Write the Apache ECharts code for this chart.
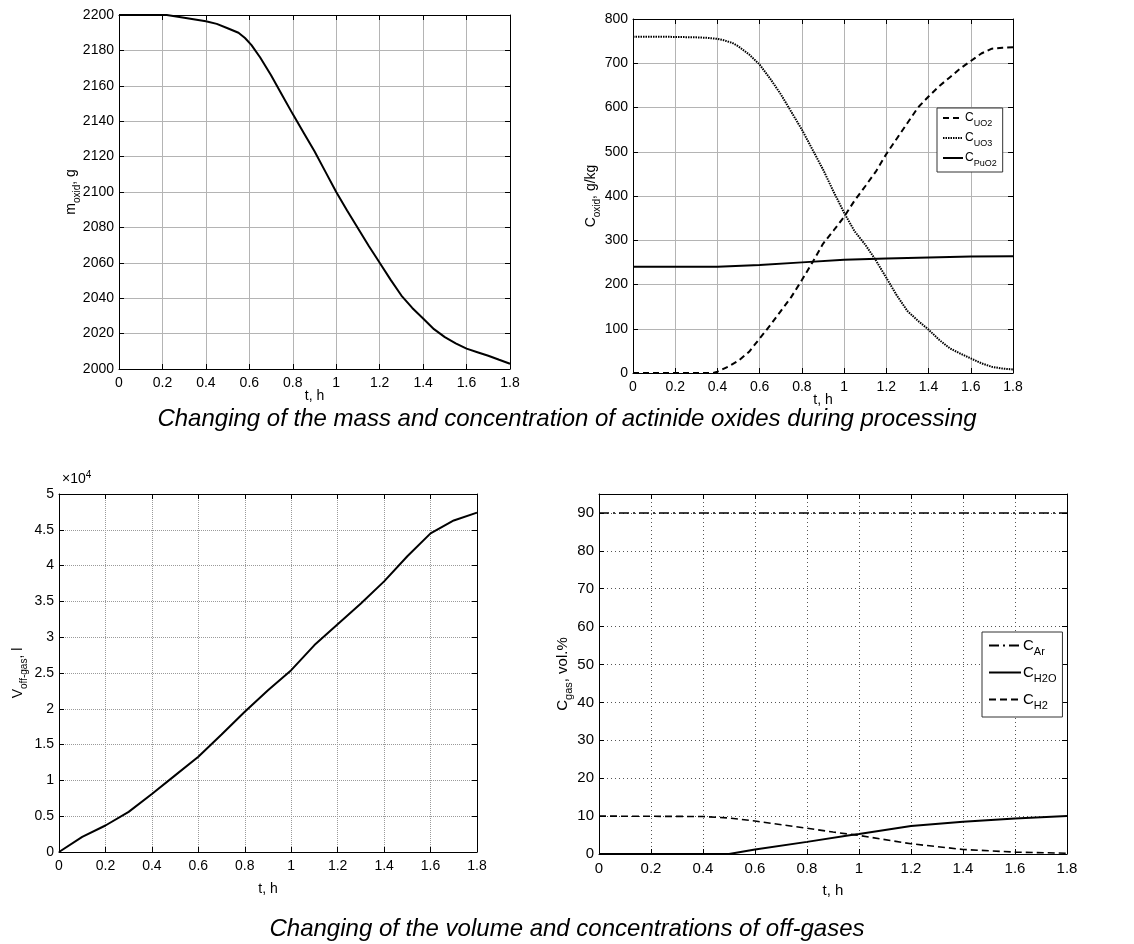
<!DOCTYPE html>
<html>
<head>
<meta charset="utf-8">
<script src="https://cdn.jsdelivr.net/npm/echarts@6/dist/echarts.min.js"></script>
<style>html,body{margin:0;padding:0;background:#fff}#c{width:1134px;height:944px}</style>
</head>
<body>
<div id="c"></div>
<script>
// ---- data ----
const tTicks = [0, 0.2, 0.4, 0.6, 0.8, 1, 1.2, 1.4, 1.6, 1.8];

const massT = [0, 0.22, 0.3, 0.4, 0.45, 0.5, 0.55, 0.58, 0.61, 0.65, 0.7, 0.75, 0.8, 0.85, 0.9, 0.95, 1.0, 1.05, 1.1, 1.15, 1.2, 1.25, 1.3, 1.35, 1.4, 1.45, 1.5, 1.55, 1.6, 1.65, 1.7, 1.75, 1.8];
const massG = [2200, 2200, 2198.5, 2196.5, 2195, 2192.5, 2190, 2187, 2183, 2176, 2166, 2155, 2144, 2133.5, 2123, 2111.5, 2100, 2089.5, 2079.5, 2069.5, 2060, 2050.5, 2041.5, 2034.5, 2028.5, 2022.5, 2018, 2014.5, 2011.5, 2009.5, 2007.5, 2005.2, 2003];

const uo2T = [0, 0.38, 0.4, 0.45, 0.5, 0.55, 0.6, 0.65, 0.7, 0.75, 0.8, 0.85, 0.9, 0.95, 1.0, 1.05, 1.1, 1.15, 1.2, 1.25, 1.3, 1.35, 1.4, 1.45, 1.5, 1.55, 1.6, 1.65, 1.7, 1.75, 1.8];
const uo2C = [0, 0, 3, 14, 28, 48, 78, 108, 140, 172, 210, 250, 292, 322, 353, 390, 422, 455, 495, 530, 565, 600, 625, 648, 668, 688, 705, 722, 733, 735, 736];

const uo3T = [0, 0.1, 0.2, 0.3, 0.35, 0.4, 0.43, 0.47, 0.5, 0.55, 0.6, 0.65, 0.7, 0.75, 0.8, 0.85, 0.9, 0.95, 1.0, 1.05, 1.1, 1.15, 1.2, 1.25, 1.3, 1.35, 1.4, 1.45, 1.5, 1.55, 1.6, 1.65, 1.7, 1.75, 1.8];
const uo3C = [760, 760, 759.5, 758.5, 757.5, 755, 752, 746, 738, 720, 697, 665, 630, 590, 550, 505, 460, 410, 362, 320, 290, 255, 215, 175, 140, 118, 98, 75, 56, 44, 33, 22, 14, 10, 8];

const puo2T = [0, 0.4, 0.6, 0.8, 1.0, 1.2, 1.4, 1.6, 1.8];
const puo2C = [240, 240, 244, 250, 256, 259, 261, 263, 264];

const gasT = [0, 0.1, 0.2, 0.3, 0.4, 0.5, 0.6, 0.7, 0.8, 0.9, 1.0, 1.1, 1.2, 1.3, 1.4, 1.5, 1.6, 1.7, 1.8];
const gasV = [0, 2100, 3700, 5600, 8100, 10700, 13300, 16400, 19600, 22600, 25400, 28900, 31800, 34700, 37800, 41300, 44500, 46300, 47400];

const arT = [0, 1.8];
const arC = [90, 90];
const h2oT = [0, 0.5, 0.6, 0.8, 0.97, 1.0, 1.2, 1.4, 1.6, 1.8];
const h2oC = [0, 0, 1.2, 3.2, 5, 5.3, 7.4, 8.5, 9.4, 10];
const h2T = [0, 0.4, 0.5, 0.6, 0.8, 0.9, 1.0, 1.2, 1.4, 1.6, 1.8];
const h2C = [10, 9.9, 9.5, 8.7, 6.8, 5.8, 4.9, 2.7, 1.2, 0.5, 0.2];

const caption1 = 'Changing of the mass and concentration of actinide oxides during processing';
const caption2 = 'Changing of the volume and concentrations of off-gases';

// ---- helpers ----
const zip = (xs, ys) => xs.map((x, i) => [x, ys[i]]);
const FONT = 'Liberation Sans, Arial, sans-serif';
const subRich = (fs) => ({
  m: { fontSize: fs, fontFamily: FONT, color: '#000', lineHeight: fs + 8 },
  s: { fontSize: Math.round(fs * 0.72), fontFamily: FONT, color: '#000', lineHeight: Math.round(fs * 0.72), verticalAlign: 'bottom' }
});

const grids = [
  { left: 119, top: 15, width: 391, height: 354 },
  { left: 633, top: 19, width: 380, height: 354 },
  { left: 59, top: 494, width: 418, height: 358 },
  { left: 599, top: 494, width: 468, height: 360 }
];

const gridStyles = [
  { color: '#b4b4b4', type: 'solid', width: 1 },
  { color: '#b4b4b4', type: 'solid', width: 1 },
  { color: '#9a9a9a', type: [1, 1], width: 1 },
  { color: '#555', type: [1, 3], width: 1 }
];

const xNames = ['t, h', 't, h', 't, h', 't, h'];
const xGaps = [20, 20, 30, 29];
const yCfg = [
  { min: 2000, max: 2200, interval: 20, name: '{m|m}{s|oxid}{m|, g}', gap: 37, fs: 14 },
  { min: 0, max: 800, interval: 100, name: '{m|C}{s|oxid}{m|, g/kg}', gap: 31, fs: 14 },
  { min: 0, max: 50000, interval: 5000, name: '{m|V}{s|off-gas}{m|, l}', gap: 30, fs: 14, fmt: v => String(v / 10000) },
  { min: 0, max: 95, interval: 10, name: '{m|C}{s|gas}{m|, vol.%}', gap: 25, fs: 15, hideMax: true }
];

const xAxis = [], yAxis = [];
grids.forEach((g, i) => {
  const fs = yCfg[i].fs;
  xAxis.push({
    type: 'value', gridIndex: i, min: 0, max: 1.8, interval: 0.2, position: 'bottom',
    name: xNames[i], nameLocation: 'middle', nameGap: xGaps[i], nameMoveOverlap: false,
    nameTextStyle: { fontSize: fs, fontFamily: FONT, color: '#000' },
    axisLine: { show: true, onZero: false, lineStyle: { color: '#000', width: 1 } },
    axisTick: { show: true, inside: true, length: 5, lineStyle: { color: '#000' } },
    axisLabel: { fontSize: fs, fontFamily: FONT, color: '#000', margin: 7 },
    splitLine: { show: true, lineStyle: gridStyles[i] }
  });
  xAxis.push({
    type: 'value', gridIndex: i, min: 0, max: 1.8, interval: 0.2, position: 'top',
    axisLine: { show: true, onZero: false, lineStyle: { color: '#000', width: 1 } },
    axisTick: { show: true, inside: true, length: 5, lineStyle: { color: '#000' } },
    axisLabel: { show: false }, splitLine: { show: false }
  });
  const yc = yCfg[i];
  yAxis.push({
    type: 'value', gridIndex: i, min: yc.min, max: yc.max, interval: yc.interval, position: 'left',
    name: yc.name, nameLocation: 'middle', nameGap: yc.gap, nameRotate: 90, nameMoveOverlap: false,
    nameTextStyle: { rich: subRich(fs) },
    axisLine: { show: true, onZero: false, lineStyle: { color: '#000', width: 1 } },
    axisTick: { show: true, inside: true, length: 5, lineStyle: { color: '#000' } },
    axisLabel: { fontSize: fs, fontFamily: FONT, color: '#000', margin: 5, showMaxLabel: yc.hideMax ? false : true,
      formatter: yc.fmt ? yc.fmt : (v => String(v)) },
    splitLine: { show: true, lineStyle: gridStyles[i] }
  });
  yAxis.push({
    type: 'value', gridIndex: i, min: yc.min, max: yc.max, interval: yc.interval, position: 'right',
    axisLine: { show: true, onZero: false, lineStyle: { color: '#000', width: 1 } },
    axisTick: { show: true, inside: true, length: 5, lineStyle: { color: '#000' } },
    axisLabel: { show: false }, splitLine: { show: false }
  });
});

const line = (name, grid, xs, ys, type, width) => ({
  name, type: 'line', xAxisIndex: grid * 2, yAxisIndex: grid * 2,
  data: zip(xs, ys), showSymbol: false, symbol: 'none',
  smooth: false,
  lineStyle: { color: '#000', width: width || 2, type: type || 'solid' },
  itemStyle: { color: '#000' }, z: 5, silent: true, animation: false
});

const series = [
  line('mass', 0, massT, massG, 'solid', 2),
  line('UO2', 1, uo2T, uo2C, [6, 4], 2),
  line('UO3', 1, uo3T, uo3C, [1.5, 1], 2),
  line('PuO2', 1, puo2T, puo2C, 'solid', 2),
  line('gas', 2, gasT, gasV, 'solid', 2),
  line('Ar', 3, arT, arC, [10, 4, 2, 4], 1.6),
  line('H2O', 3, h2oT, h2oC, 'solid', 2),
  line('H2', 3, h2T, h2C, [7, 4], 1.6)
];

const legendFmt = n => '{m|C}{s|' + n + '}';
const hiddenSymbol = { color: 'rgba(0,0,0,0)', borderColor: 'rgba(0,0,0,0)', borderWidth: 0, opacity: 0 };

const option = {
  backgroundColor: '#fff',
  animation: false,
  grid: grids,
  xAxis, yAxis, series,
  legend: [
    {
      data: ['UO2', 'UO3', 'PuO2'], orient: 'vertical', left: 937, top: 108,
      itemWidth: 20, itemHeight: 10, itemGap: 4,
      itemStyle: hiddenSymbol,
      backgroundColor: '#fff', borderColor: '#333', borderWidth: 1, padding: [4, 6, 4, 5],
      formatter: legendFmt, selectedMode: false,
      textStyle: { rich: subRich(12), padding: [0, 0, 0, -3] }
    },
    {
      data: ['Ar', 'H2O', 'H2'], orient: 'vertical', left: 982, top: 632,
      itemWidth: 32, itemHeight: 12, itemGap: 8,
      itemStyle: hiddenSymbol,
      backgroundColor: '#fff', borderColor: '#333', borderWidth: 1, padding: [6, 6, 6, 6],
      formatter: legendFmt, selectedMode: false,
      textStyle: { rich: subRich(15), padding: [0, 0, 0, -3] }
    }
  ],
  graphic: [
    { type: 'text', x: 567, y: 419, style: { text: caption1, font: 'italic 24px Liberation Sans, Arial, sans-serif', fill: '#000', align: 'center', verticalAlign: 'middle' } },
    { type: 'text', x: 567, y: 929, style: { text: caption2, font: 'italic 24px Liberation Sans, Arial, sans-serif', fill: '#000', align: 'center', verticalAlign: 'middle' } },
    { type: 'text', x: 62, y: 479, style: { text: '{a|×10}{b|4}', rich: { a: { fontSize: 14, fontFamily: FONT, fill: '#000', lineHeight: 18 }, b: { fontSize: 10, fontFamily: FONT, fill: '#000', verticalAlign: 'top', lineHeight: 10 } }, verticalAlign: 'middle' } }
  ]
};

const chart = echarts.init(document.getElementById('c'), null, { renderer: 'canvas' });
chart.setOption(option);
</script>
</body>
</html>
